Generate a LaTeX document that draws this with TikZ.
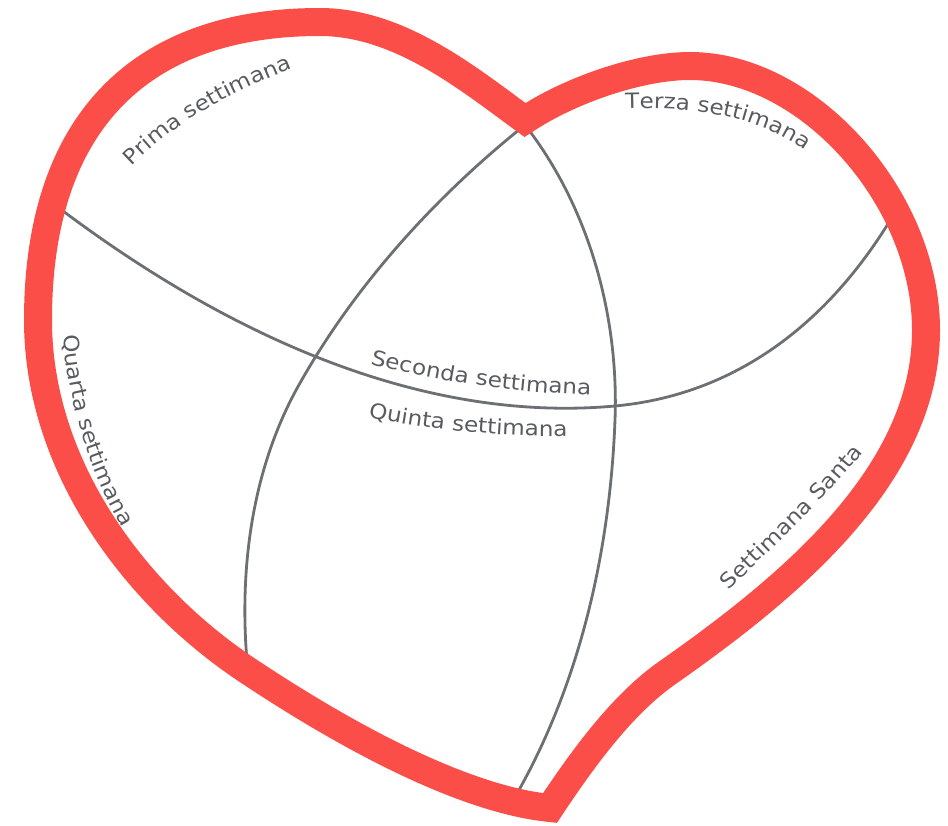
\documentclass[tikz,border=0pt]{standalone}
\usepackage{fontspec}
\usetikzlibrary{decorations.text}
\newfontfamily\weekfont[FakeStretch=1.1]{DejaVu Sans}
\definecolor{heartred}{RGB}{252,78,72}
\definecolor{linegray}{RGB}{108,112,116}
\definecolor{textgray}{RGB}{88,92,96}
\newcommand{\weekstyle}{\weekfont\fontsize{21}{25}\selectfont\color{textgray}}
\begin{document}
\begin{tikzpicture}[x=1pt,y=-1pt,
        heartline/.style={draw=heartred,line width=28pt,line join=miter},
        split/.style={draw=linegray,line width=2.8pt},
        weeklabel/.style={decorate,decoration={text along path,text align=center,text={|\weekstyle|#1}}}]
    \useasboundingbox (0,0) rectangle (948,825);
    \coordinate (cusp) at (525,120);
    \coordinate (tip) at (550,808);
    \coordinate (cross) at (615,420);
    % dividing lines
    \draw[split] (63,211) .. controls (222,330) and (416,424) .. (615,406)
        .. controls (734,395) and (828,325) .. (894,214);
    \draw[split] (525,125) .. controls (436,196) and (356,284) .. (300,383)
        .. controls (251,469) and (238,573) .. (248,672);
    \draw[split] (525,125) .. controls (589,207) and (619,316) .. (cross)
        .. controls (610,551) and (580,684) .. (515,797);
    % heart
    \draw[heartline] (cusp) .. controls (470,80) and (400,22) .. (320,22)
        .. controls (137,22) and (38,126) .. (38,320)
        .. controls (38,470) and (140,600) .. (250,672)
        .. controls (360,745) and (470,800) .. (tip)
        .. controls (580,763) and (620,706) .. (667,673)
        .. controls (800,580) and (926,470) .. (926,330)
        .. controls (926,198) and (808,66) .. (690,66)
        .. controls (640,66) and (570,90) .. cycle;
    % labels
    \path[weeklabel={Prima settimana}] (117,181) -- (128,170) .. controls (175,122) and (225,95) .. (298,66) -- (312,60);
    \path[weeklabel={Terza settimana}] (607,110) -- (622,109) .. controls (700,106) and (762,118) .. (808,152) -- (820,161);
    \path[weeklabel={Seconda settimana}] (359,361) -- (374,365) .. controls (440,382) and (520,393) .. (588,395) -- (603,395);
    \path[weeklabel={Quinta settimana}] (357,415) -- (372,418) .. controls (430,430) and (500,437) .. (564,436) -- (579,436);
    \path[weeklabel={Quarta settimana}] (62,317) -- (63,332) .. controls (68,400) and (88,470) .. (124,530) -- (132,543);
    \path[weeklabel={Settimana Santa}] (714,604) -- (725,594) .. controls (775,545) and (830,495) .. (866,448) -- (875,436);
\end{tikzpicture}
\end{document}
